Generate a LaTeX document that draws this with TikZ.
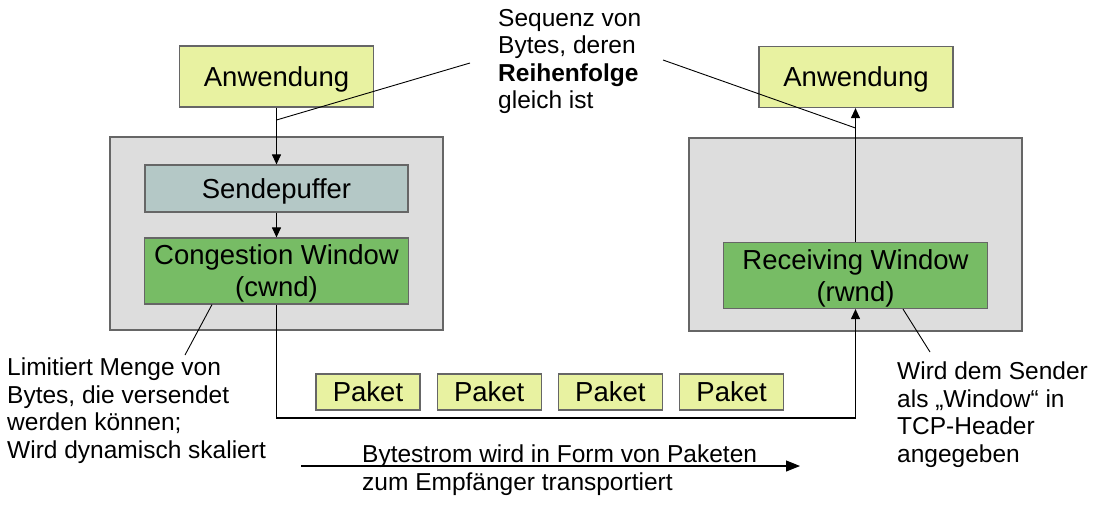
\documentclass[tikz,border=0pt]{standalone}
\usepackage{fontspec}
\setmainfont{Liberation Sans}
\usetikzlibrary{arrows.meta}
\definecolor{appyellow}{HTML}{E8F2A1}
\definecolor{bufgray}{HTML}{B4C8C6}
\definecolor{wingreen}{HTML}{77BC65}
\definecolor{hostgray}{HTML}{DDDDDD}
\definecolor{boxline}{HTML}{666666}

\begin{document}
\begin{tikzpicture}[x=1pt,y=-1pt,
        box/.style = {shape=rectangle, draw=boxline, line width=1.2pt,
          align=center, inner sep=0pt, text depth=0pt,
          font=\fontsize{27.5}{32}\selectfont},
        app/.style = {box, fill=appyellow,
          minimum width=194pt, minimum height=61pt},
        host/.style = {box, fill=hostgray,
          minimum width=333pt, minimum height=193pt},
        window/.style = {box, fill=wingreen,
          minimum width=264pt, minimum height=66pt},
        paket/.style = {box, fill=appyellow,
          minimum width=104pt, minimum height=36pt},
        note/.style = {align=left, inner sep=0pt, anchor=north west,
          font=\fontsize{24.5}{27.5}\selectfont},
        flow/.style = {line width=1.1pt,
          -{Triangle[length=10pt,width=9pt]}},
        hint/.style = {line width=0.9pt}]
  \useasboundingbox (0,0) rectangle (1098,517);

  % Sender
  \node[host] (sender) at (276.5,233.5) {};
  \node[app] (lapp) at (276.5,76.5) {Anwendung};
  \node[box, fill=bufgray, minimum width=263pt, minimum height=47pt]
    (sendebuf) at (276.5,188.5) {Sendepuffer};
  \node[window] (cwnd) at (276.5,271) {Congestion Window\\(cwnd)};

  % Empfaenger
  \node[host] (receiver) at (855.5,234.5) {};
  \node[app] (rapp) at (856,77) {Anwendung};
  \node[window] (rwnd) at (855.5,275.5) {Receiving Window\\(rwnd)};

  % Pakete
  \foreach \i in {0,...,3}
    \node[paket] (paket\i) at (368+121.2*\i,392) {Paket};

  \draw[flow] (lapp) -- (sendebuf);
  \draw[flow] (sendebuf) -- (cwnd);
  \coordinate (bend) at (276.5,418);
  \draw[flow] (cwnd.south) -- (bend) -| (rwnd.south);
  \draw[flow] (rwnd.north) -- (rapp.south -| rwnd.north);

  % Texte
  \node[note] (seq) at (498,9)
    {Sequenz von\\Bytes, deren\\\textbf{Reihenfolge}\\gleich ist};
  \node[note] (limit) at (7,358)
    {Limitiert Menge von\\Bytes, die versendet\\werden können;\\Wird dynamisch skaliert};
  \node[note] (header) at (897,362)
    {Wird dem Sender\\als „Window“ in\\TCP-Header\\angegeben};
  \node[note] (stream) at (362,445)
    {Bytestrom wird in Form von Paketen\\zum Empfänger transportiert};

  \coordinate (seqL) at (470,63);
  \coordinate (seqR) at (663,60);
  \coordinate (sendhit) at (276.5,120);
  \coordinate (recvhit) at (855.5,128);
  \draw[hint] (seqL) -- (sendhit);
  \draw[hint] (seqR) -- (recvhit);
  \coordinate (limitend) at (185,355);
  \coordinate (headerend) at (930,352);
  \draw[hint] (limitend) -- (cwnd.south west -| 212,0);
  \draw[hint] (headerend) -- (rwnd.south east -| 903,0);

  \coordinate (streamA) at (301,466);
  \coordinate (streamB) at (800,466);
  \draw[line width=1.1pt, -{Triangle[length=14pt,width=11pt]}]
    (streamA) -- (streamB);
\end{tikzpicture}
\end{document}
